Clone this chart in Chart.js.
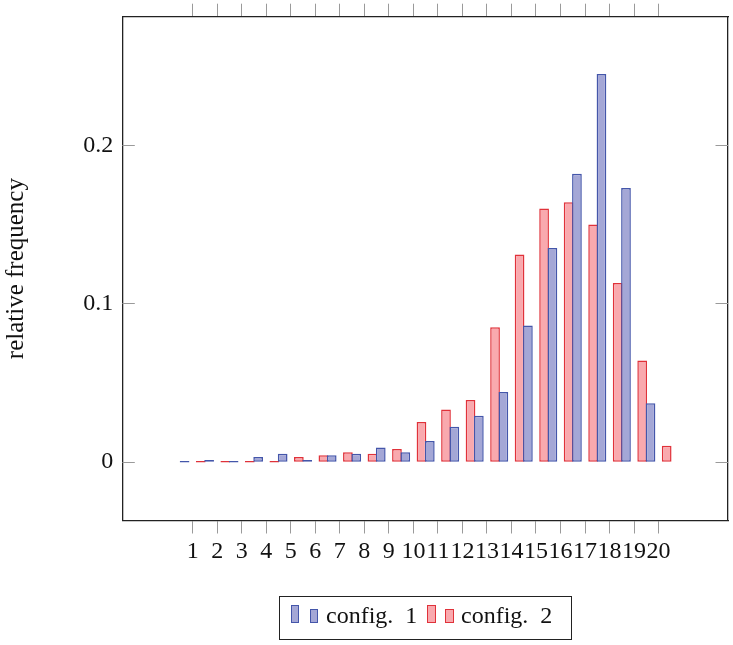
<!DOCTYPE html>
<html>
<head>
<meta charset="utf-8">
<script src="https://cdn.jsdelivr.net/npm/chart.js@4.4.1/dist/chart.umd.min.js"></script>
<style>
  body { margin: 0; background: #fff; }
  #wrap { position: relative; width: 733px; height: 645px; }
  .legend {
    position: absolute; left: 279px; top: 596px; width: 293px; height: 44px;
    border: 1.3px solid #222; box-sizing: border-box;
    font-family: "Liberation Serif", serif; font-size: 24px; color: #111;
  }
  .legend span { position: absolute; box-sizing: border-box; }
  .legend .txt { line-height: 1; white-space: pre; top: 6px; }
  .legend .c1 { background: #a4a7d6; border: 1.3px solid #4456aa; }
  .legend .c2 { background: #f9a9ae; border: 1.3px solid #e0323a; }
</style>
</head>
<body>
<div id="wrap">
  <canvas id="bar-chart" width="733" height="645"></canvas>
  <div class="legend">
    <span class="c1" style="left:11px;top:8px;width:8px;height:18px"></span>
    <span class="c1" style="left:30px;top:12px;width:8px;height:14px"></span>
    <span class="txt" style="left:46px">config.  1</span>
    <span class="c2" style="left:147px;top:8px;width:9px;height:18px"></span>
    <span class="c2" style="left:165px;top:12px;width:9px;height:14px"></span>
    <span class="txt" style="left:181px">config.  2</span>
  </div>
</div>
<script>
// data
var xTicks = [1, 2, 3, 4, 5, 6, 7, 8, 9, 10, 11, 12, 13, 14, 15, 16, 17, 18, 19, 20]
var config1 = [0, 0.001, 0, 0.003, 0.005, 0.001, 0.004, 0.005, 0.009, 0.006,
  0.013, 0.022, 0.029, 0.044, 0.086, 0.135, 0.182, 0.245, 0.173, 0.037]
var config2 = [0, 0, 0, 0, 0.003, 0.004, 0.006, 0.005, 0.008, 0.025,
  0.033, 0.039, 0.085, 0.131, 0.160, 0.164, 0.150, 0.113, 0.064, 0.010]
var yTicks = [0, 0.1, 0.2]

var serif = { family: '"Liberation Serif", serif', size: 24 }
var xMin = -1.87, xMax = 22.83
var yMin = -0.0372, yMax = 0.2813
var tickGray = '#9a9a9a'
var frame = { display: true, color: '#222', width: 1.3 }

// y ticks in pgfplots sit inside the frame, on both sides
var insideTicks = {
  id: 'insideTicks',
  beforeDatasetsDraw(chart) {
    let ctx = chart.ctx
    let area = chart.chartArea
    ctx.save()
    ctx.strokeStyle = tickGray
    ctx.lineWidth = 1
    yTicks.forEach(v => {
      let py = Math.round(chart.scales.y.getPixelForValue(v)) + 0.5
      ctx.beginPath()
      ctx.moveTo(area.left, py)
      ctx.lineTo(area.left + 12.5, py)
      ctx.moveTo(area.right - 12.5, py)
      ctx.lineTo(area.right, py)
      ctx.stroke()
    })
    ctx.restore()
  }
}

function setXTicks(scale) {
  scale.ticks = xTicks.map(v => ({ value: v }))
}

// no label overflow padding, the frame is placed by hand
function noPad(scale) {
  scale.paddingTop = 0
  scale.paddingBottom = 0
  scale.paddingLeft = 0
  scale.paddingRight = 0
}

var barChart = new Chart(document.getElementById('bar-chart'), {
  type: 'bar',
  data: {
    datasets: [
      {
        label: 'config. 1',
        data: xTicks.map((x, i) => ({ x: x, y: config1[i] })),
        backgroundColor: '#a4a7d6',
        borderColor: '#4456aa',
        borderWidth: 1.5,
        borderSkipped: false,
        minBarLength: 1.5,
        categoryPercentage: 1.32,
        barPercentage: 0.6,
        xAxisID: 'x',
        yAxisID: 'y'
      }, {
        label: 'config. 2',
        data: xTicks.map((x, i) => ({ x: x, y: config2[i] })),
        backgroundColor: '#f9a9ae',
        borderColor: '#e0323a',
        borderWidth: 1.5,
        borderSkipped: false,
        minBarLength: 1.5,
        categoryPercentage: 1.32,
        barPercentage: 0.6,
        xAxisID: 'x',
        yAxisID: 'y'
      }
    ]
  },
  options: {
    responsive: false,
    animation: false,
    devicePixelRatio: 1,
    layout: { padding: 0 },
    plugins: {
      legend: { display: false },
      tooltip: { enabled: false }
    },
    scales: {
      x: {
        type: 'linear', position: 'bottom', min: xMin, max: xMax, offset: false,
        afterBuildTicks: setXTicks,
        afterFit: s => { s.height = 124.5; noPad(s) },
        grid: { offset: false, drawOnChartArea: false, drawTicks: true, tickLength: 13, color: tickGray },
        border: frame,
        ticks: { font: serif, color: '#111', padding: 4, maxRotation: 0, autoSkip: false,
          callback: v => String(v) }
      },
      xTop: {
        type: 'linear', position: 'top', min: xMin, max: xMax, offset: false,
        afterBuildTicks: setXTicks,
        afterFit: s => { s.height = 16.7; noPad(s) },
        grid: { offset: false, drawOnChartArea: false, drawTicks: true, tickLength: 13, color: tickGray },
        border: frame,
        ticks: { display: false }
      },
      y: {
        type: 'linear', position: 'left', min: yMin, max: yMax,
        afterBuildTicks: s => { s.ticks = yTicks.map(v => ({ value: v })) },
        afterFit: s => { s.width = 122.3; noPad(s) },
        grid: { display: false, drawTicks: false },
        border: frame,
        ticks: { font: serif, color: '#111', padding: 9, callback: v => String(v) },
        title: { display: true, text: 'relative frequency', font: { family: serif.family, size: 25 },
          color: '#111', padding: { top: 1, bottom: 0 } }
      },
      yRight: {
        type: 'linear', position: 'right', min: yMin, max: yMax,
        afterFit: s => { s.width = 5; noPad(s) },
        grid: { display: false, drawTicks: false },
        border: frame,
        ticks: { display: false }
      }
    }
  },
  plugins: [insideTicks]
})
</script>
</body>
</html>
